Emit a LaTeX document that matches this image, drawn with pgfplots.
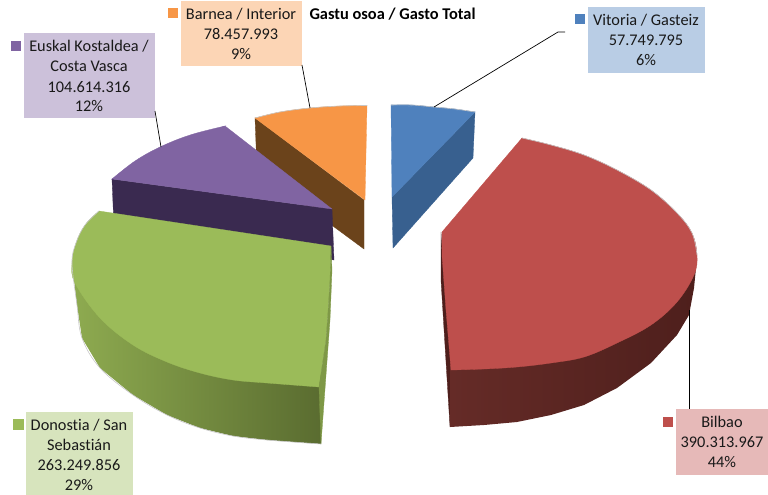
\documentclass[border=0pt]{standalone}
\usepackage{pgfplots}
\pgfplotsset{compat=1.18}
\usepackage{fontspec}
\setmainfont{Carlito}[Ligatures=CommonOff]
\definecolor{ctop}{HTML}{BE4F4C}
\definecolor{gtop}{HTML}{9BBB59}
\definecolor{gl}{HTML}{8EAB50}
\definecolor{gr}{HTML}{5A6C30}
\definecolor{rl}{HTML}{652B27}
\definecolor{rr}{HTML}{4E1F1C}
\definecolor{ptop}{HTML}{8064A2}
\definecolor{pside}{HTML}{3A2A50}
\definecolor{otop}{HTML}{F79646}
\definecolor{oside}{HTML}{6B431B}
\definecolor{btop}{HTML}{4F81BD}
\definecolor{bside}{HTML}{38608F}
\definecolor{bo}{HTML}{FCD5B5}
\definecolor{bp}{HTML}{CCC1DA}
\definecolor{bb}{HTML}{B9CDE5}
\definecolor{bg}{HTML}{D7E4BD}
\definecolor{br}{HTML}{E6B9B8}
\newcommand{\face}[2]{\addplot[fill=#1,draw=#1,line width=0.3pt] coordinates {#2} -- cycle;}
\newcommand{\arcpart}[2]{\addplot[smooth,tension=0.6,fill=#1,draw=#1,line width=0.3pt] coordinates {#2} -- cycle;}
\newcommand{\rim}[1]{\addplot[smooth,tension=0.6,gray!45,line width=0.6pt] coordinates {#1};}
\newcommand{\lead}[1]{\addplot[black,line width=0.7pt] coordinates {#1};}
\newcommand{\key}[2]{\addplot[only marks,mark=square*,mark size=4.8pt,mark options={fill=#1,draw=#1,line width=0pt}] coordinates {#2};}
\newcommand{\lbl}[3]{\node[anchor=center,font=\fontsize{16.3}{20}\selectfont,text=black!90,inner sep=0pt] at (axis cs:#1,#2) {#3};}
\begin{document}
\begin{tikzpicture}
\useasboundingbox (0,0) rectangle (768pt,495pt);
\begin{axis}[at={(0,0)},anchor=south west,hide axis,scale only axis,width=768pt,height=495pt,xmin=0,xmax=768,ymin=0,ymax=495,y dir=reverse,clip=false]
% orange
\face{oside}{(255,118)(364,200)(364,249)(257,170)}
\arcpart{otop}{(255,118)(280,112)(310,108)(340,106)(367,105.5)}
\face{otop}{(255,118)(310,110)(367,105.5)(365,200)}
\rim{(255,118)(280,112)(310,108)(340,106)(367,105.5)}
% purple
\face{pside}{(112,179)(332,209)(334,260)(114,228)}
\arcpart{ptop}{(112,179)(135,161)(160,147)(190,135)(225,126)}
\face{ptop}{(112,179)(170,147)(225,126)(332,209)}
% green
\addplot[draw=none,left color=gl,right color=gr] coordinates {(72,263)(77,305)(82,338)(100,368)(133,395)(167,415)(200,428)(233,436)(267,440)(321,444)(321,300)} -- cycle;
\arcpart{gtop}{(99,211)(85,225)(76,243)(72,263)(75,283)(100,318)(133,345)(167,362)(200,373)(233,380)(267,383)(319,387)}
\face{gtop}{(99,211)(200,330)(319,387)(326,340)(328,312)(330,280)(331,246)}
\face{gl!70!gr}{(331,246)(332,270)(330,320)(321,444)(319,387)(326,340)(328,312)(330,280)}
\rim{(99,211)(85,225)(76,243)(72,263)(77,305)(82,338)(100,368)(133,395)(167,415)(200,428)(233,436)(267,440)(321,444)}
% blue
\face{bside}{(475,112)(473,158)(393,248)(392,197)}
\arcpart{btop}{(391,105)(412,105)(434,107)(455,109)(475,112)}
\face{btop}{(391,105)(433,108)(475,112)(392,197)}
\rim{(391,105)(412,105)(434,107)(455,109)(475,112)}
% red
\face{rr}{(441,232)(441,280)(450,427)(451,370)(446,278)(442,255)}
\addplot[draw=none,left color=rl,middle color=rr,right color=rr] coordinates {(450,427)(484,425)(517,422)(551,415)(584,405)(617,388)(651,363)(677,335)(689,315)(694,288)(697,258)(450,300)} -- cycle;
\arcpart{ctop}{(522,138)(551,145)(584,155)(617,170)(651,190)(677,213)(692,233)(697,255)(694,275)(677,302)(651,325)(617,343)(584,357)(551,363)(517,367)(484,369)(451,370)}
\face{ctop}{(522,138)(560,250)(451,370)(446,310)(442,255)(442,232)}
\rim{(522,138)(551,145)(584,155)(617,170)(651,190)(677,213)(692,233)(697,255)}
% boxes
\addplot[fill=bo,draw=none] coordinates {(181,1)(302,1)(302,66)(181,66)} -- cycle;
\addplot[fill=bp,draw=none] coordinates {(24,33)(155,33)(155,118)(24,118)} -- cycle;
\addplot[fill=bb,draw=none] coordinates {(588,7)(705,7)(705,73)(588,73)} -- cycle;
\addplot[fill=bg,draw=none] coordinates {(26,412)(133,412)(133,495)(26,495)} -- cycle;
\addplot[fill=br,draw=none] coordinates {(676,409)(768,409)(768,475)(676,475)} -- cycle;
% leaders
\lead{(302,65)(310,108)}
\lead{(155,111)(161,147)}
\lead{(565,32)(558,32)(434,107)}
\lead{(689,409)(689,310)}
% keys
\key{otop}{(173,13)}
\key{ptop}{(16,46)}
\key{btop}{(580,19)}
\key{gtop}{(18.5,424.5)}
\key{ctop}{(668,422)}
% text
\lbl{241}{14}{Barnea / Interior}\lbl{241}{34}{78.457.993}\lbl{241}{54}{9\%}
\lbl{89}{46}{Euskal Kostaldea /}\lbl{89}{66}{Costa Vasca}\lbl{89}{87}{104.614.316}\lbl{89}{106}{12\%}
\lbl{646}{20}{Vitoria / Gasteiz}\lbl{646}{40}{57.749.795}\lbl{646}{60}{6\%}
\lbl{79}{425}{Donostia / San}\lbl{79}{445}{Sebastián}\lbl{79}{465}{263.249.856}\lbl{79}{485}{29\%}
\lbl{722}{422}{Bilbao}\lbl{722}{442}{390.313.967}\lbl{722}{462}{44\%}
\node[anchor=center,font=\fontsize{16.4}{20}\selectfont\bfseries,inner sep=0pt] at (axis cs:392.5,14) {Gastu osoa / Gasto Total};
\end{axis}
\end{tikzpicture}
\end{document}
